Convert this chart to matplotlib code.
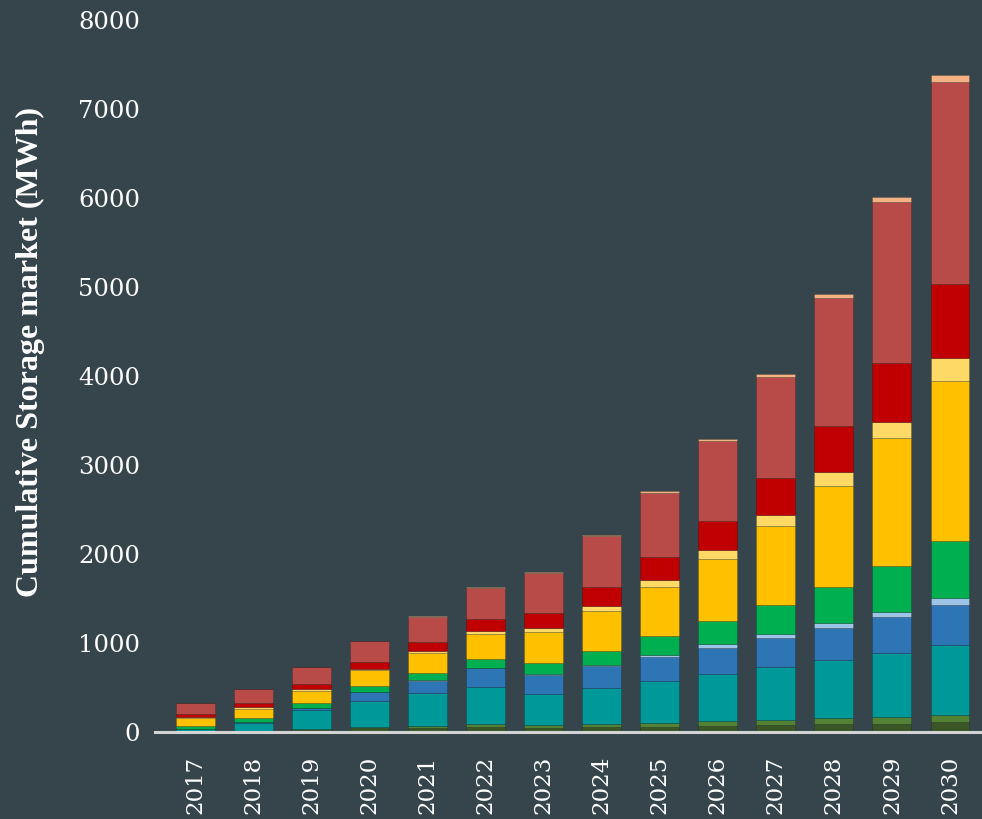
import numpy as np
import matplotlib.pyplot as plt

years = ["2017", "2018", "2019", "2020", "2021", "2022", "2023",
         "2024", "2025", "2026", "2027", "2028", "2029", "2030"]

# stacked segments, bottom to top (MWh)
seg_dark_olive = [0, 0, 20, 40, 45, 56, 45, 56, 60, 71, 79, 91, 94, 111]
seg_olive = [0, 0, 10, 15, 26, 34, 30, 37, 45, 52, 56, 72, 77, 80]
seg_teal = [34, 105, 217, 293, 363, 419, 351, 404, 467, 528, 598, 641, 717, 785]
seg_blue = [0, 10, 26, 98, 142, 206, 214, 244, 273, 295, 326, 369, 401, 452]
seg_light_blue = [0, 0, 0, 7, 11, 7, 11, 15, 23, 42, 41, 52, 60, 80]
seg_green = [33, 42, 49, 60, 75, 97, 123, 157, 206, 254, 325, 409, 517, 639]
seg_yellow = [87, 105, 142, 183, 221, 281, 348, 449, 557, 707, 891, 1134, 1435, 1796]
seg_light_yellow = [11, 15, 15, 15, 30, 34, 49, 56, 75, 94, 119, 149, 185, 256]
seg_red = [37, 48, 60, 75, 101, 131, 161, 206, 262, 325, 423, 521, 665, 834]
seg_brown_red = [120, 154, 191, 232, 280, 355, 453, 576, 718, 902, 1130, 1434, 1804, 2270]
seg_peach = [0, 0, 0, 7, 8, 11, 11, 15, 19, 26, 38, 45, 60, 82]

series = [
    (seg_dark_olive, "#3a5526"),
    (seg_olive, "#548235"),
    (seg_teal, "#009999"),
    (seg_blue, "#2e75b6"),
    (seg_light_blue, "#9dc3e6"),
    (seg_green, "#00b050"),
    (seg_yellow, "#ffc000"),
    (seg_light_yellow, "#ffd966"),
    (seg_red, "#c00000"),
    (seg_brown_red, "#b84a47"),
    (seg_peach, "#f4b183"),
]

bg = "#36454c"
fig = plt.figure(figsize=(9.82, 8.19), dpi=100, facecolor=bg)
ax = fig.add_axes([0.158, 0.1062, 0.84, 0.8694])
ax.set_facecolor(bg)

x = np.arange(len(years))
bottom = np.zeros(len(years))
for vals, color in series:
    vals = np.array(vals, dtype=float)
    ax.bar(x, vals, bottom=bottom, width=0.67, color=color,
           edgecolor=(0, 0, 0, 0.18), linewidth=0.6, zorder=3)
    bottom += vals

ax.set_xlim(-0.689, 13.517)
ax.set_ylim(0, 8000)
ax.set_yticks(range(0, 8001, 1000))
ax.set_xticks(x)
ax.set_xticklabels(years, rotation=90)

for s in ["top", "right", "left"]:
    ax.spines[s].set_visible(False)
ax.spines["bottom"].set_color("#d4d4d4")
ax.spines["bottom"].set_linewidth(2.2)
ax.spines["bottom"].set_zorder(4)

ax.tick_params(axis="y", length=0, pad=11, labelsize=17.5, labelcolor="white")
ax.tick_params(axis="x", length=0, pad=17, labelsize=16.5, labelcolor="white")
for lab in ax.get_xticklabels() + ax.get_yticklabels():
    lab.set_fontfamily("DejaVu Serif")

ax.set_ylabel("Cumulative Storage market (MWh)", fontsize=23, fontweight="bold",
              color="white", family="Liberation Serif")
ax.yaxis.set_label_coords(-0.133, 0.534)

fig.savefig("out.png", dpi=100, facecolor=bg)
